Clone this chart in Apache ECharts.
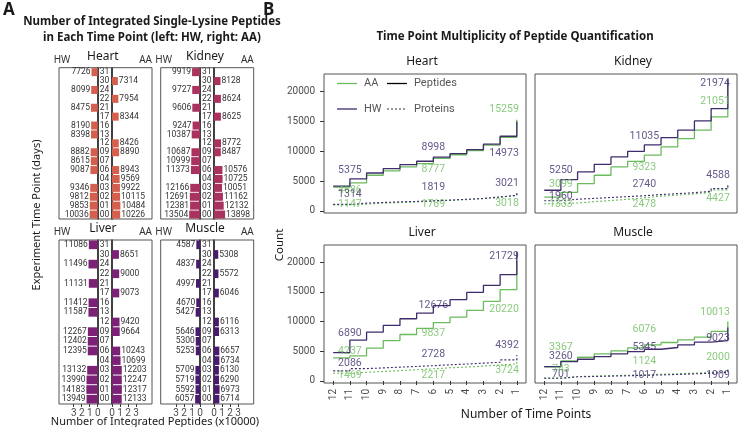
<!DOCTYPE html>
<html>
<head>
<meta charset="utf-8">
<title>Single-Lysine Peptides</title>
<style>
html, body { margin: 0; padding: 0; background: #fff; }
#main { width: 738px; height: 427px; }
</style>
</head>
<body>
<div id="main"></div>
<script src="https://cdn.jsdelivr.net/npm/echarts@6/dist/echarts.min.js"></script>
<script>
// ---------- data: panel A (integrated peptides per time point) ----------
var timeLabels = ['31', '30', '24', '22', '21', '17', '16', '13', '12', '09', '07', '06', '04', '03', '02', '01', '00'];
var heartHW  = [7726, null, 8099, null, 8475, null, 8190, 8398, null, 8882, 8615, 9087, null, 9346, 9812, 9853, 10036];
var heartAA  = [null, 7314, null, 7954, null, 8344, null, null, 8426, 8890, null, 8943, 9569, 9922, 10115, 10484, 10226];
var kidneyHW = [9919, null, 9727, null, 9606, null, 9247, 10387, null, 10687, 10999, 11373, null, 12166, 12691, 12381, 13504];
var kidneyAA = [null, 8128, null, 8624, null, 8625, null, null, 8772, 8487, null, 10576, 10725, 10051, 11162, 12132, 13898];
var liverHW  = [11086, null, 11496, null, 11131, null, 11412, 11587, null, 12267, 12402, 12395, null, 13132, 13990, 14183, 13949];
var liverAA  = [null, 8651, null, 9000, null, 9073, null, null, 9420, 9664, null, 10243, 10699, 12203, 12247, 12317, 12133];
var muscleHW = [4587, null, 4837, null, 4997, null, 4670, 5427, null, 5646, 5300, 5253, null, 5709, 5719, 5592, 6057];
var muscleAA = [null, 5308, null, 5572, null, 6046, null, null, 6116, 6313, null, 6657, 6734, 6130, 6290, 6973, 6714];

// ---------- data: panel B (peptides / proteins seen in >= n time points) ----------
var timePoints = [12, 11, 10, 9, 8, 7, 6, 5, 4, 3, 2, 1];
var heartPepHW  = [4150, 5375, 6350, 7090, 7760, 8310, 8998, 9600, 10270, 11160, 12490, 14973];
var heartPepAA  = [4000, 4686, 5970, 6690, 7360, 7930, 8777, 9400, 10100, 11000, 12300, 15259];
var heartProtHW = [1100, 1314, 1420, 1520, 1600, 1700, 1819, 1950, 2100, 2340, 2630, 3021];
var heartProtAA = [1000, 1147, 1300, 1400, 1500, 1620, 1769, 1900, 2050, 2300, 2600, 3018];
var kidneyPepHW  = [3460, 5250, 6530, 7800, 9030, 9980, 11035, 12270, 13500, 15050, 17120, 21974];
var kidneyPepAA  = [2300, 3099, 4580, 5970, 7360, 8300, 9323, 10700, 12100, 13500, 15720, 21051];
var kidneyProtHW = [1700, 1960, 2100, 2250, 2400, 2550, 2740, 2900, 3050, 3300, 3740, 4588];
var kidneyProtAA = [1200, 1333, 1550, 1750, 1950, 2200, 2478, 2650, 2850, 3100, 3500, 4427];
var liverPepHW  = [4790, 6890, 8230, 9350, 10480, 11440, 12676, 13690, 14930, 16110, 17920, 21729];
var liverPepAA  = [3900, 4237, 5520, 6810, 7830, 8850, 9837, 10770, 11890, 13410, 15380, 20220];
var liverProtHW = [1700, 2086, 2200, 2330, 2450, 2580, 2728, 2850, 3000, 3150, 3550, 4392];
var liverProtAA = [1300, 1469, 1600, 1750, 1900, 2050, 2217, 2350, 2500, 2700, 2870, 3724];
var musclePepHW  = [2420, 3260, 3660, 4110, 4560, 4960, 5345, 5640, 6090, 6540, 6810, 9023];
var musclePepAA  = [2400, 3367, 4000, 4560, 5070, 5580, 6076, 6480, 6930, 7390, 8340, 10013];
var muscleProtHW = [450, 701, 760, 820, 880, 950, 1017, 1100, 1200, 1300, 1450, 1909];
var muscleProtAA = [480, 743, 820, 890, 960, 1040, 1124, 1220, 1330, 1440, 1600, 2000];
var labeledPoints = [11, 6, 1];

// ---------- chart ----------
var FONT = 'Roboto, "Noto Sans", sans-serif';
var TITLE_FONT = '"Noto Sans", sans-serif';
var hwColor = '#3f2c6c';
var aaColor = '#6bbb5d';
var grid = [], xAxis = [], yAxis = [], series = [], graphic = [];

function txt(text, x, y, size, opts) {
    opts = opts || {};
    return {
        type: 'text', x: x, y: y, rotation: opts.rotation || 0, z: 100,
        style: {
            text: text, fill: opts.color || '#1a1a1a',
            font: (opts.bold ? 'bold ' : '') + size + 'px ' + (opts.font || TITLE_FONT),
            align: opts.align || 'center', verticalAlign: 'middle'
        }
    };
}

// ----- panel A: mirrored bars -----
var PX_PER_UNIT = 8; // px per 10000 peptides
var facetsA = [
    {name: 'Heart',  hw: heartHW,  aa: heartAA,  color: '#d35f4c', left: 59,    zeroL: 97.7, zeroR: 112, right: 152,   top: 67.7, bottom: 219, axis: false},
    {name: 'Kidney', hw: kidneyHW, aa: kidneyAA, color: '#a9325f', left: 160.7, zeroL: 200,  zeroR: 214, right: 253.7, top: 67.7, bottom: 219, axis: false},
    {name: 'Liver',  hw: liverHW,  aa: liverAA,  color: '#7c2276', left: 59,    zeroL: 97.7, zeroR: 112, right: 152,   top: 240,  bottom: 404, axis: true},
    {name: 'Muscle', hw: muscleHW, aa: muscleAA, color: '#4a1a6c', left: 160.7, zeroL: 200,  zeroR: 214, right: 253.7, top: 240,  bottom: 404, axis: true}
];
var ticksA = [0, 10000, 20000, 30000];

facetsA.forEach(function (f) {
    var h = f.bottom - f.top;
    var sides = [
        {left: f.left, width: f.zeroL - f.left, data: f.hw, inverse: true, pos: 'right', label: 'left'},
        {left: f.zeroR, width: f.right - f.zeroR, data: f.aa, inverse: false, pos: 'left', label: 'right'}
    ];
    sides.forEach(function (s, k) {
        var gi = grid.length;
        grid.push({left: s.left, top: f.top, width: s.width, height: h});
        xAxis.push({
            type: 'value', gridIndex: gi, inverse: s.inverse, min: 0,
            max: s.width / PX_PER_UNIT * 10000,
            axisLine: {show: false}, splitLine: {show: false},
            axisTick: {show: f.axis, customValues: ticksA, length: 3, lineStyle: {color: '#333'}},
            axisLabel: {show: f.axis, customValues: ticksA, fontSize: 10, color: '#4d4d4d', margin: 4,
                formatter: function (v) { return v / 10000; }}
        });
        yAxis.push({
            type: 'category', gridIndex: gi, data: timeLabels, inverse: true, position: s.pos,
            axisLine: {show: true, lineStyle: {color: '#000', width: 1.5}},
            axisTick: {show: false},
            axisLabel: {show: k === 0, interval: 0, fontSize: 8.5, color: '#333', margin: 2}
        });
        series.push({
            type: 'bar', xAxisIndex: gi, yAxisIndex: gi,
            data: s.data.map(function (v) { return v == null ? '-' : v; }),
            barCategoryGap: '10%',
            itemStyle: {color: f.color},
            label: {show: true, position: s.label, distance: 1, fontSize: 8.5, color: '#333'}
        });
    });
    graphic.push({type: 'rect', z: 1, shape: {x: f.left, y: f.top, width: f.right - f.left, height: h},
        style: {fill: 'none', stroke: '#555', lineWidth: 1}});
    graphic.push(txt('HW', f.left + 3, f.top - 8, 10, {color: '#333'}));
    graphic.push(txt('AA', f.right, f.top - 8, 10, {color: '#333', align: 'right'}));
    graphic.push(txt(f.name, (f.zeroL + f.zeroR) / 2 - 2, f.top - 11, 12));
});

// ----- panel B: step lines -----
var facetsB = [
    {name: 'Heart',  left: 324, top: 74,  yl: true,  xl: false, pepHW: heartPepHW, pepAA: heartPepAA, protHW: heartProtHW, protAA: heartProtAA},
    {name: 'Kidney', left: 535, top: 74,  yl: false, xl: false, pepHW: kidneyPepHW, pepAA: kidneyPepAA, protHW: kidneyProtHW, protAA: kidneyProtAA},
    {name: 'Liver',  left: 324, top: 245, yl: true,  xl: true,  pepHW: liverPepHW, pepAA: liverPepAA, protHW: liverProtHW, protAA: liverProtAA},
    {name: 'Muscle', left: 535, top: 245, yl: false, xl: true,  pepHW: musclePepHW, pepAA: musclePepAA, protHW: muscleProtHW, protAA: muscleProtAA}
];
// label anchor heights (in count units) for n = 11, 6, 1
var labelPosB = {
    Heart:  {pepHW: [6800, 10700, 9600],  pepAA: [3460, 6970, 16950], protHW: [2740, 4010, 4680], protAA: [1070, 1070, 1340]},
    Kidney: {pepHW: [6800, 12540, 21400], pepAA: [4460, 7360, 18350], protHW: [2460, 4460, 5970], protAA: [1120, 1120, 2170]},
    Liver:  {pepHW: [8060, 12680, 21020], pepAA: [4960, 7950, 12120], protHW: [2990, 4400, 5920], protAA: [960, 960, 1740]},
    Muscle: {pepHW: [4110, 5700, 7100],   pepAA: [5700, 8740, 11550], protHW: [1180, 960, 960],   protAA: [1980, 3260, 4010]}
};
var xTicksB = timePoints.slice();
var yTicksB = [0, 5000, 10000, 15000, 20000];
var W = 202;

facetsB.forEach(function (f) {
    var gi = grid.length;
    grid.push({left: f.left, top: f.top, width: W, height: f.top > 100 ? 138 : 139, show: true,
        borderColor: '#555', borderWidth: 1, backgroundColor: 'transparent'});
    xAxis.push({
        type: 'value', gridIndex: gi, inverse: true, min: 0.45, max: 12.55,
        axisLine: {show: false}, splitLine: {show: false},
        axisTick: {show: f.xl, customValues: xTicksB, length: 4, lineStyle: {color: '#333'}},
        axisLabel: {show: f.xl, customValues: xTicksB, rotate: 90, fontSize: 10, color: '#4d4d4d', margin: 6}
    });
    yAxis.push({
        type: 'value', gridIndex: gi, min: -340, max: 22900,
        axisLine: {show: false}, splitLine: {show: false},
        axisTick: {show: f.yl, customValues: yTicksB, length: 4, lineStyle: {color: '#333'}},
        axisLabel: {show: f.yl, customValues: yTicksB, fontSize: 10, color: '#4d4d4d', margin: 9,
            formatter: function (v) { return String(v); }}
    });
    var lines = [
        {d: f.pepAA, c: aaColor, dash: 'solid', w: 1.3},
        {d: f.pepHW, c: hwColor, dash: 'solid', w: 1.3},
        {d: f.protAA, c: aaColor, dash: [2, 2], w: 1.1},
        {d: f.protHW, c: hwColor, dash: [2, 2], w: 1.1}
    ];
    lines.forEach(function (l) {
        series.push({
            type: 'line', xAxisIndex: gi, yAxisIndex: gi, step: 'end',
            symbol: 'none', silent: true,
            lineStyle: {color: l.c, width: l.w, type: l.dash},
            data: timePoints.map(function (n, i) { return [n, l.d[i]]; })
        });
    });
    var pos = labelPosB[f.name];
    var items = [];
    [['pepHW', hwColor], ['pepAA', aaColor], ['protHW', hwColor], ['protAA', aaColor]].forEach(function (p) {
        labeledPoints.forEach(function (n, j) {
            var idx = timePoints.indexOf(n);
            items.push({
                value: [n, pos[p[0]][j]],
                label: {formatter: String(f[p[0]][idx]), color: p[1],
                    position: n === 1 ? 'left' : 'inside', distance: -2}
            });
        });
    });
    series.push({
        type: 'scatter', xAxisIndex: gi, yAxisIndex: gi, symbolSize: 0, silent: true, z: 5,
        itemStyle: {color: 'rgba(0,0,0,0)'},
        label: {show: true, fontSize: 10.5, fontFamily: FONT},
        data: items
    });
    graphic.push(txt(f.name, f.left + W / 2 - 3, f.top - 12.5, 12));
});

// legend inside Heart (panel B)
graphic.push({type: 'line', z: 100, shape: {x1: 337, y1: 83.5, x2: 357, y2: 83.5}, style: {stroke: aaColor, lineWidth: 1.3}});
graphic.push(txt('AA', 364, 83.5, 11, {color: '#555', align: 'left', font: FONT}));
graphic.push({type: 'line', z: 100, shape: {x1: 387, y1: 83.5, x2: 407, y2: 83.5}, style: {stroke: '#000', lineWidth: 1.3}});
graphic.push(txt('Peptides', 414, 83.5, 11, {color: '#555', align: 'left', font: FONT}));
graphic.push({type: 'line', z: 100, shape: {x1: 337, y1: 109, x2: 357, y2: 109}, style: {stroke: hwColor, lineWidth: 1.3}});
graphic.push(txt('HW', 364, 109, 11, {color: '#555', align: 'left', font: FONT}));
graphic.push({type: 'line', z: 100, shape: {x1: 387, y1: 109, x2: 407, y2: 109}, style: {stroke: '#333', lineWidth: 1.1, lineDash: [2, 2]}});
graphic.push(txt('Proteins', 414, 109, 11, {color: '#555', align: 'left', font: FONT}));

// titles and axis names
graphic.push(txt('A', 3, 10, 17, {bold: true, align: 'left'}));
graphic.push(txt('B', 263, 10, 17, {bold: true, align: 'left'}));
graphic.push(txt('Number of Integrated Single-Lysine Peptides', 152, 22, 11.5, {bold: true}));
graphic.push(txt('in Each Time Point (left: HW, right: AA)', 152, 38, 11.5, {bold: true}));
graphic.push(txt('Time Point Multiplicity of Peptide Quantification', 515, 37, 11.5, {bold: true}));
graphic.push(txt('Experiment Time Point (days)', 37, 215, 11, {rotation: Math.PI / 2}));
graphic.push(txt('Number of Integrated Peptides (x10000)', 155, 422, 11));
graphic.push(txt('Count', 280, 245, 11.5, {rotation: Math.PI / 2}));
graphic.push(txt('Number of Time Points', 526, 415, 12));

var myChart = echarts.init(document.getElementById('main'));
myChart.setOption({
    animation: false,
    textStyle: {fontFamily: FONT},
    grid: grid,
    xAxis: xAxis,
    yAxis: yAxis,
    series: series,
    graphic: graphic
});
</script>
</body>
</html>
